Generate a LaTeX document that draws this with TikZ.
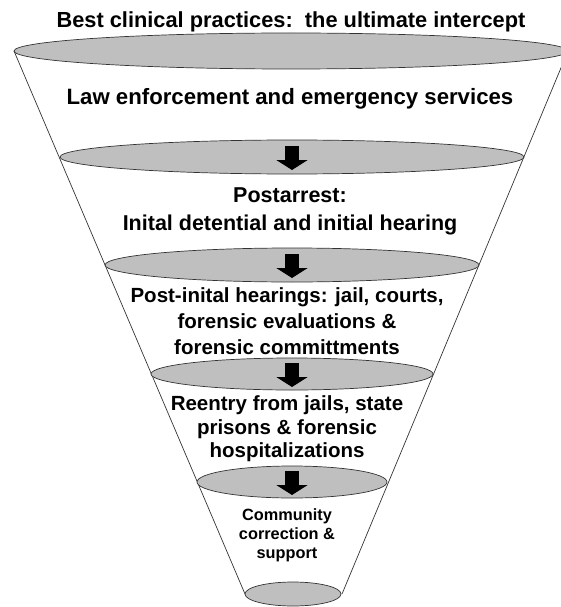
\documentclass[tikz,border=0pt]{standalone}
\usepackage{fontspec}
\setmainfont{Liberation Sans}
\usetikzlibrary{arrows.meta}

\begin{document}
\begin{tikzpicture}[x=1pt,y=-1pt,
    tier/.style={draw=black!80,line width=0.7pt,fill=black!25},
    tierarrow/.style={line width=14pt,-{Triangle[length=10pt,width=31pt]}},
    tiertext/.style={align=center,inner sep=0pt}]
                \useasboundingbox (0,0) rectangle (561,607);
                % funnel sides
                \draw[black!80,line width=0.7pt] (14,51)--(245,594);
                \draw[black!80,line width=0.7pt] (568,51)--(342,594);
                % the tiers, top to bottom
                \draw[tier] (291,51) ellipse [x radius=277, y radius=18];
                \draw[tier] (292,157) ellipse [x radius=232, y radius=17];
                \draw[tier] (292,265) ellipse [x radius=187, y radius=17];
                \draw[tier] (292,374) ellipse [x radius=141, y radius=16];
                \draw[tier] (292,482) ellipse [x radius=95, y radius=16];
                \draw[tier] (293,594) ellipse [x radius=48, y radius=12];
                % arrows between tiers
                \foreach \i/\yc in {1/157,2/265,3/374,4/482}{
                    \coordinate (top\i) at (292,\yc-11);
                    \coordinate (tip\i) at (292,\yc+13);
                    \draw[tierarrow] (top\i)--(tip\i);
                }
                \node[tiertext,anchor=base,font=\bfseries\fontsize{21.8}{26}\selectfont] (title) at (291,28)
                    {Best clinical practices:\ \ the ultimate intercept};
                \node[tiertext,anchor=base,font=\bfseries\fontsize{22.2}{26}\selectfont] (police) at (290,105)
                    {Law enforcement and emergency services};
                \node[tiertext,font=\bfseries\fontsize{21.5}{28}\selectfont] (arrest) at (290,211.5)
                    {Postarrest:\\Inital detential and initial hearing};
                \node[tiertext,font=\bfseries\fontsize{20.5}{26}\selectfont] (hearing) at (287,321.5)
                    {Post-inital hearings: jail, courts,\\forensic evaluations \&\\forensic committments};
                \node[tiertext,font=\bfseries\fontsize{20.5}{23.5}\selectfont] (reentry) at (287,429)
                    {Reentry from jails, state\\prisons \& forensic\\hospitalizations};
                \node[tiertext,font=\bfseries\fontsize{16.3}{19}\selectfont] (community) at (287,535.5)
                    {Community\\correction \&\\support};
            \end{tikzpicture}
\end{document}
